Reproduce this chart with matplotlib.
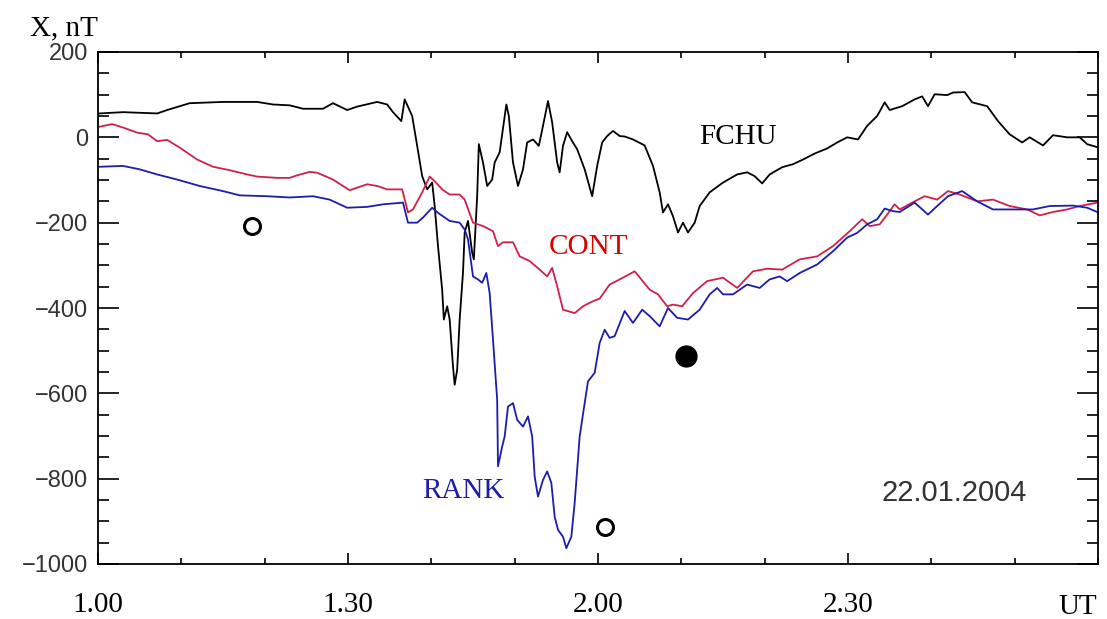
import matplotlib
matplotlib.use("Agg")
import matplotlib.pyplot as plt
from matplotlib.ticker import MultipleLocator

# time in minutes after 1.00 UT, X component in nT
fchu_t = [0.2, 3.0, 7.1, 8.3, 11.0, 15.0, 19.1, 21.0, 23.0, 24.6, 27.0, 28.2, 29.9, 31.1,
          33.5, 34.7, 35.4, 36.4, 36.8, 37.7, 38.3, 38.9, 39.5, 40.1, 40.4, 40.8, 41.3,
          41.5, 41.9, 42.2, 42.6, 42.8, 43.1, 43.4, 43.8, 44.0, 44.4, 44.9, 45.1, 45.5,
          45.7, 46.2, 46.7, 47.3, 47.6, 48.2, 49.0, 49.3, 49.8, 50.4, 51.0, 51.5, 52.2,
          52.9, 53.4, 54.0, 54.5, 55.1, 55.4, 55.8, 56.3, 56.9, 57.5, 58.4, 59.3, 59.9,
          60.5, 61.1, 61.8, 62.6, 63.2, 64.2, 65.6, 66.6, 67.4, 67.8, 68.4, 69.0, 69.6,
          70.2, 70.8, 71.6, 72.2, 73.4, 75.0, 76.7, 77.9, 78.8, 79.7, 80.6, 82.1, 83.4,
          84.6, 86.0, 87.5, 88.7, 89.9, 91.2, 92.3, 93.5, 94.4, 95.0, 96.5, 98.0, 98.9,
          99.6, 100.4, 101.9, 102.6, 104.0, 104.9, 106.7, 108.0, 109.4, 110.9, 111.8,
          113.4, 114.6, 116.3, 117.8, 118.7, 119.9]
fchu_x = [56, 59, 56, 64, 80, 83, 83, 77, 75, 67, 67, 80, 64, 72,
          83, 77, 59, 38, 89, 50, -20, -91, -122, -106, -161, -255, -357,
          -427, -396, -427, -537, -580, -545, -427, -317, -223, -196, -270, -286, -138,
          -16, -59, -114, -99, -59, -35, 77, 50, -59, -114, -75, -12, -5,
          -20, 27, 85, 35, -59, -82, -20, 12, -9, -28, -75, -138, -67,
          -12, 3, 15, 3, 2, -5, -19, -67, -129, -176, -157, -185, -223,
          -200, -223, -200, -161, -129, -106, -87, -82, -91, -108, -87, -70, -63,
          -52, -38, -26, -12, 0, -5, 27, 50, 82, 64, 73, 89, 96,
          73, 101, 99, 105, 106, 82, 73, 38, 7, -12, 0,
          -19, 5, 0, 0, -16, -23]

cont_t = [0.2, 1.7, 3.0, 4.7, 6.0, 7.1, 8.3, 9.8, 11.9, 13.8, 15.8, 17.9, 19.1, 21.5, 23.0,
          23.9, 25.4, 26.3, 28.2, 29.4, 30.2, 31.1, 32.3, 33.5, 34.7, 36.5, 37.2, 37.8,
          38.9, 39.8, 40.4, 41.3, 42.2, 43.4, 44.0, 45.0, 46.2, 47.4, 48.0, 48.6, 49.8,
          50.6, 51.8, 53.0, 53.9, 54.5, 55.1, 55.8, 57.2, 58.2, 59.4, 60.2, 61.4, 62.6,
          64.4, 66.2, 67.2, 68.3, 69.0, 70.1, 71.4, 73.1, 75.0, 76.7, 78.6, 80.3, 82.1,
          84.2, 86.3, 88.2, 90.2, 91.7, 92.6, 93.8, 94.7, 95.6, 96.2, 97.7, 99.2, 100.7,
          102.0, 103.4, 105.5, 107.4, 109.4, 111.5, 113.0, 114.6, 116.3, 117.8, 119.9]
cont_x = [25, 31, 23, 11, 7, -9, -6, -24, -52, -69, -77, -87, -92, -95, -95,
          -89, -81, -83, -99, -114, -124, -118, -110, -114, -122, -122, -176, -169,
          -129, -92, -103, -122, -134, -134, -146, -200, -208, -220, -255, -246, -246,
          -279, -290, -310, -326, -306, -349, -404, -412, -396, -384, -378, -345, -333,
          -314, -357, -368, -396, -392, -396, -365, -337, -329, -353, -314, -308, -310,
          -286, -279, -255, -220, -192, -208, -204, -181, -157, -169, -153, -138, -146,
          -126, -134, -150, -146, -161, -169, -183, -175, -169, -161, -153]

rank_t = [0.2, 3.0, 5.0, 7.1, 9.5, 12.2, 15.0, 17.0, 20.3, 23.0, 25.8, 27.8, 29.9, 32.3,
          34.2, 36.6, 37.2, 38.3, 39.0, 40.1, 40.8, 42.2, 43.4, 44.0, 44.4, 45.0, 45.6,
          46.1, 46.6, 47.0, 47.4, 47.9, 48.0, 48.5, 48.8, 49.2, 49.8, 50.3, 51.0, 51.6,
          52.1, 52.4, 52.8, 53.4, 53.9, 54.4, 54.8, 55.2, 55.8, 56.2, 56.8, 57.2, 57.8,
          58.4, 58.8, 59.6, 60.2, 60.8, 61.4, 62.0, 63.2, 64.2, 65.3, 66.2, 67.4, 68.4,
          69.5, 70.8, 72.2, 73.4, 74.3, 75.0, 76.2, 77.9, 79.4, 80.6, 81.8, 82.7, 84.2,
          86.3, 88.2, 89.9, 91.1, 92.3, 93.5, 94.4, 95.4, 96.2, 98.0, 99.6, 100.7, 102.0,
          103.7, 105.5, 107.4, 109.4, 112.2, 114.2, 117.0, 118.7, 119.9]
rank_x = [-69, -67, -75, -87, -99, -114, -126, -136, -138, -141, -138, -146, -165, -163,
          -157, -153, -200, -200, -188, -165, -177, -196, -200, -216, -239, -326, -333,
          -341, -318, -365, -474, -615, -771, -725, -701, -631, -623, -662, -678, -654,
          -701, -795, -842, -803, -783, -810, -889, -920, -936, -963, -936, -857, -701,
          -623, -572, -552, -482, -451, -470, -466, -407, -435, -404, -419, -443, -400,
          -423, -427, -404, -368, -353, -368, -368, -345, -353, -333, -326, -337, -318,
          -298, -267, -235, -224, -204, -192, -167, -173, -175, -153, -181, -161, -138,
          -126, -150, -169, -169, -169, -161, -160, -165, -175]

x_ticks = [0, 30, 60, 90]
x_labels = ["1.00", "1.30", "2.00", "2.30"]

open_t = [18.5, 60.8]
open_x = [-207, -913]
full_t = [70.6]
full_x = [-512]

fig = plt.figure(figsize=(11.07, 6.19), dpi=100)
ax = fig.add_axes([98 / 1107, 1 - 564 / 619, 1000 / 1107, 512 / 619])

ax.plot(fchu_t, fchu_x, color="black", lw=1.3)
ax.plot(cont_t, cont_x, color="#d0204a", lw=1.3)
ax.plot(rank_t, rank_x, color="#1c1cae", lw=1.3)

ax.plot(open_t, open_x, "o", ms=11.5, mfc="white", mec="black", mew=2.2)
ax.plot(full_t, full_x, "o", ms=15, color="black")

ax.set_xlim(0, 120)
ax.set_ylim(-1000, 200)

ax.set_xticks(x_ticks)
ax.set_xticklabels(x_labels, family="Liberation Serif", fontsize=21)
ax.xaxis.set_minor_locator(MultipleLocator(10))
ax.yaxis.set_major_locator(MultipleLocator(200))
ax.yaxis.set_minor_locator(MultipleLocator(50))
for lab in ax.get_yticklabels():
    lab.set_family("Liberation Sans")
    lab.set_fontsize(17)
    lab.set_color("#333333")

ax.tick_params(axis="both", which="both", direction="in", top=True, right=True, width=1.2)
ax.tick_params(axis="x", which="major", length=8, pad=20)
ax.tick_params(axis="x", which="minor", length=4)
ax.tick_params(axis="y", which="major", length=15, pad=7)
ax.tick_params(axis="y", which="minor", length=8)
for s in ax.spines.values():
    s.set_linewidth(1.3)

serif = "Liberation Serif"
ax.text(76.8, 0, "FCHU", family=serif, fontsize=21, ha="center", va="center")
ax.text(58.8, -258, "CONT", family=serif, fontsize=21, color="#dd0000", ha="center", va="center")
ax.text(43.8, -829, "RANK", family=serif, fontsize=21, color="#1c1cae", ha="center", va="center")
ax.text(102.7, -833, "22.01.2004", family="Liberation Sans", fontsize=21, color="#333333",
        ha="center", va="center")
ax.text(0.999, -0.058, "UT", transform=ax.transAxes, family=serif, fontsize=21,
        ha="right", va="top")
fig.text(30 / 1107, 1 - 35 / 619, "X, nT", family=serif, fontsize=21, va="baseline")

fig.savefig("out.png", dpi=100)
